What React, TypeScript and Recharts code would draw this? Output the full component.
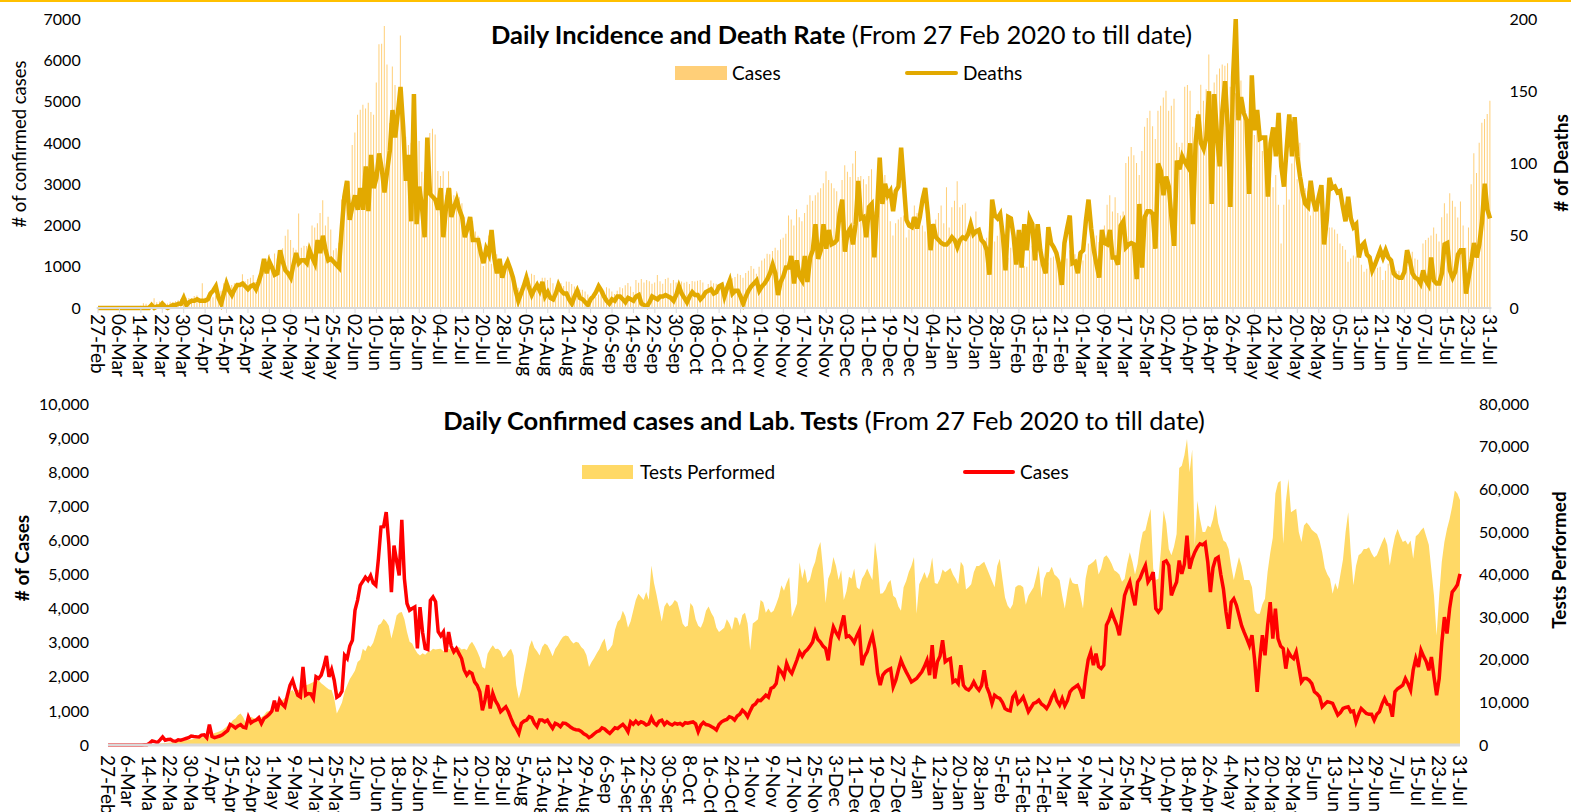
import React from 'react';
import { ComposedChart, Bar, Line, Area, XAxis, YAxis, Legend } from 'recharts';

const FONT = 'Lato, "Open Sans", sans-serif';

// one entry per day, 27-Feb-2020 .. 31-Jul-2021 (521 days)
const START = { y: 2020, m: 1, d: 27 };
const DAY_COUNT = 521;
const MONTHS = ['Jan', 'Feb', 'Mar', 'Apr', 'May', 'Jun', 'Jul', 'Aug', 'Sep', 'Oct', 'Nov', 'Dec'];

const days: Date[] = [];
for (let i = 0; i < DAY_COUNT; i++) days.push(new Date(START.y, START.m, START.d + i));
const topLabels = days.map((d) => `${String(d.getDate()).padStart(2, '0')}-${MONTHS[d.getMonth()]}`);
const bottomLabels = days.map((d) => `${d.getDate()}-${MONTHS[d.getMonth()]}`);

// daily confirmed cases (8 days per row, row starts on a tick date)
const cases = [
  2, 0, 0, 0, 2, 0, 0, 1, // 27-Feb
  1, 0, 0, 0, 0, 3, 7, 8, // 06-Mar
  53, 117, 100, 70, 150, 234, 140, 160, // 14-Mar
  170, 120, 110, 150, 140, 165, 190, 215, // 22-Mar
  263, 250, 240, 234, 290, 300, 215, 600, // 30-Mar
  250, 215, 240, 263, 300, 360, 420, 600, // 07-Apr
  560, 500, 560, 600, 520, 500, 820, 650, // 15-Apr
  700, 730, 800, 630, 780, 830, 900, 990, // 23-Apr
  1300, 990, 1320, 1200, 1120, 1450, 1750, 1900, // 01-May
  1650, 1460, 1410, 2290, 1460, 1510, 1500, 1365, // 09-May
  2000, 1950, 2050, 2300, 2610, 2000, 2210, 1900, // 17-May
  1400, 1450, 1580, 2630, 2535, 2900, 3070, 3950, // 25-May
  4250, 4680, 4800, 4920, 4830, 4970, 4750, 4680, // 02-Jun
  5460, 6390, 6400, 6830, 5900, 4480, 5850, 5400, // 10-Jun
  4970, 6600, 4880, 4150, 3950, 4000, 4045, 2830, // 18-Jun
  4045, 3300, 2830, 2800, 4240, 4340, 4200, 3320, // 26-Jun
  3200, 3315, 2730, 3315, 2900, 2730, 2830, 2680, // 04-Jul
  2535, 2200, 2050, 2145, 2100, 1850, 1750, 1560, // 12-Jul
  1020, 1315, 1755, 1070, 1510, 1300, 1170, 975, // 20-Jul
  1050, 1120, 975, 780, 600, 490, 340, 635, // 28-Jul
  700, 730, 830, 800, 635, 535, 730, 730, // 05-Aug
  680, 730, 600, 490, 635, 600, 535, 640, // 13-Aug
  635, 580, 520, 470, 450, 440, 400, 330, // 21-Aug
  290, 215, 260, 330, 390, 420, 505, 470, // 29-Aug
  400, 340, 420, 505, 480, 550, 605, 520, // 06-Sep
  390, 680, 610, 700, 620, 680, 650, 585, // 14-Sep
  620, 800, 650, 585, 700, 730, 600, 680, // 22-Sep
  620, 585, 640, 610, 635, 580, 655, 640, // 30-Sep
  660, 680, 620, 390, 580, 665, 600, 585, // 08-Oct
  540, 500, 440, 600, 680, 720, 750, 830, // 16-Oct
  800, 730, 850, 900, 1020, 950, 830, 1000, // 24-Oct
  1150, 1200, 1315, 1300, 1380, 1460, 1400, 1660, // 01-Nov
  1700, 1800, 2240, 2145, 2000, 2390, 2200, 2100, // 09-Nov
  2300, 2500, 2730, 2600, 2730, 2800, 2900, 3020, // 17-Nov
  3315, 3100, 3020, 2900, 2830, 2485, 3100, 3460, // 25-Nov
  3300, 3170, 3500, 3800, 3170, 3200, 3120, 3000, // 03-Dec
  3200, 3360, 2340, 2600, 2730, 3000, 3220, 2800, // 11-Dec
  2100, 1755, 2050, 2145, 2200, 2240, 1705, 1900, // 19-Dec
  2200, 2485, 2300, 2145, 2000, 1850, 1900, 1950, // 27-Dec
  2050, 2145, 2300, 2485, 2050, 2925, 1950, 2440, // 04-Jan
  2600, 3070, 2440, 2500, 2535, 1850, 1900, 1800, // 12-Jan
  2340, 1755, 1650, 1610, 1700, 1850, 1700, 1610, // 20-Jan
  1750, 2190, 1700, 1510, 1220, 1460, 1400, 1365, // 28-Jan
  1250, 1070, 1020, 1000, 1400, 1510, 1220, 1300, // 05-Feb
  1410, 1200, 975, 1100, 1220, 1250, 1315, 1200, // 13-Feb
  1150, 1070, 1200, 1400, 1540, 1300, 1170, 1365, // 21-Feb
  1150, 1300, 1560, 1650, 1700, 1755, 1600, 1365, // 01-Mar
  2000, 2500, 2730, 2340, 2680, 2300, 2240, 2340, // 09-Mar
  3510, 3670, 3900, 3700, 3510, 3220, 3800, 4390, // 17-Mar
  4600, 4780, 4400, 4095, 4780, 4900, 5100, 5265, // 25-Mar
  4780, 4900, 5070, 4000, 3900, 4000, 5360, 5400, // 02-Apr
  5265, 4390, 4600, 4780, 5410, 5020, 5300, 6140, // 10-Apr
  5170, 5460, 5655, 5800, 5900, 5870, 5930, 5360, // 18-Apr
  4485, 5200, 5460, 5510, 5000, 4580, 3900, 3410, // 26-Apr
  4190, 4290, 4100, 3800, 3500, 3300, 3120, 2925, // 04-May
  3220, 2500, 1560, 2500, 3220, 2630, 3500, 4190, // 12-May
  3120, 4000, 3120, 2900, 2830, 2240, 2730, 2600, // 20-May
  2535, 2730, 2300, 1850, 1950, 1950, 1900, 1800, // 28-May
  1560, 1500, 1410, 1120, 1200, 1270, 1250, 1220, // 05-Jun
  1050, 880, 950, 1070, 1100, 1120, 975, 1000, // 13-Jun
  680, 900, 1070, 1000, 925, 900, 900, 730, // 21-Jun
  900, 975, 1200, 1365, 1200, 1170, 830, 1560, // 29-Jun
  1650, 1700, 1755, 1950, 1800, 1610, 2200, 2535, // 07-Jul
  2290, 2780, 2600, 2450, 2190, 2580, 2000, 1460, // 15-Jul
  1950, 3000, 3750, 3270, 4000, 4485, 4580, 4700, // 23-Jul
  5020, // 31-Jul
];

// daily deaths
const deaths = [
  0, 0, 0, 0, 0, 0, 0, 0, // 27-Feb
  0, 0, 0, 0, 0, 0, 0, 0, // 06-Mar
  0, 0, 0, 0, 2, 0, 1, 1, // 14-Mar
  3, 1, 0, 1, 2, 2, 3, 3, // 22-Mar
  7, 2, 4, 5, 5, 6, 5, 5, // 30-Mar
  5, 6, 10, 12, 15, 7, 3, 10, // 07-Apr
  17, 12, 9, 13, 16, 16, 17, 15, // 15-Apr
  13, 15, 16, 13, 18, 24, 34, 24, // 23-Apr
  32, 28, 23, 24, 40, 32, 26, 24, // 01-May
  21, 30, 38, 31, 33, 33, 31, 40, // 09-May
  35, 31, 47, 38, 50, 40, 33, 34, // 17-May
  32, 30, 28, 54, 77, 88, 61, 70, // 25-May
  78, 68, 83, 68, 98, 67, 106, 83, // 02-Jun
  90, 107, 96, 80, 95, 109, 137, 118, // 10-Jun
  135, 153, 125, 88, 106, 60, 148, 58, // 18-Jun
  84, 70, 49, 118, 79, 77, 75, 68, // 26-Jun
  83, 49, 70, 83, 63, 70, 75, 68, // 04-Jul
  63, 49, 55, 63, 47, 47, 47, 38, // 12-Jul
  31, 41, 37, 54, 35, 24, 34, 21, // 20-Jul
  28, 32, 27, 21, 12, 5, 10, 15, // 28-Jul
  21, 14, 9, 13, 16, 12, 18, 8, // 05-Aug
  11, 7, 6, 10, 16, 12, 10, 10, // 13-Aug
  6, 3, 8, 12, 7, 6, 4, 2, // 21-Aug
  6, 8, 11, 15, 12, 8, 5, 3, // 29-Aug
  6, 5, 8, 8, 6, 4, 7, 6, // 06-Sep
  5, 8, 9, 3, 2, 1, 4, 8, // 14-Sep
  7, 6, 8, 8, 9, 8, 7, 5, // 22-Sep
  9, 15, 10, 7, 4, 8, 11, 9, // 30-Sep
  9, 6, 8, 11, 12, 13, 10, 11, // 08-Oct
  15, 16, 8, 14, 19, 10, 12, 12, // 16-Oct
  8, 3, 8, 12, 15, 17, 19, 12, // 24-Oct
  15, 17, 20, 24, 30, 24, 9, 18, // 01-Nov
  22, 28, 28, 36, 17, 33, 22, 19, // 09-Nov
  36, 18, 35, 40, 58, 34, 40, 58, // 17-Nov
  41, 54, 44, 45, 47, 65, 75, 39, // 25-Nov
  52, 55, 44, 58, 88, 62, 63, 49, // 03-Dec
  70, 72, 35, 67, 104, 72, 86, 78, // 11-Dec
  81, 67, 81, 84, 111, 86, 61, 57, // 19-Dec
  56, 63, 55, 63, 75, 83, 65, 40, // 27-Dec
  58, 49, 47, 45, 44, 44, 46, 49, // 04-Jan
  47, 42, 47, 49, 48, 51, 58, 51, // 12-Jan
  53, 54, 47, 45, 40, 23, 75, 64, // 20-Jan
  62, 65, 50, 26, 63, 62, 50, 30, // 28-Jan
  54, 28, 58, 40, 62, 58, 33, 58, // 05-Feb
  40, 30, 24, 56, 45, 42, 38, 30, // 13-Feb
  16, 45, 55, 64, 31, 32, 24, 38, // 21-Feb
  40, 60, 75, 55, 40, 30, 21, 54, // 01-Mar
  45, 44, 54, 35, 35, 30, 57, 60, // 09-Mar
  42, 44, 45, 44, 20, 72, 28, 63, // 17-Mar
  67, 67, 65, 41, 100, 95, 78, 91, // 25-Mar
  84, 62, 43, 102, 96, 105, 101, 98, // 02-Apr
  114, 58, 114, 134, 114, 110, 118, 150, // 10-Apr
  72, 148, 120, 98, 137, 157, 125, 70, // 18-Apr
  160, 200, 130, 146, 135, 130, 79, 161, // 26-Apr
  123, 137, 117, 118, 118, 77, 114, 125, // 04-May
  105, 135, 98, 84, 110, 134, 105, 132, // 12-May
  105, 91, 80, 72, 70, 88, 74, 67, // 20-May
  77, 85, 44, 61, 90, 83, 84, 80, // 28-May
  81, 70, 60, 77, 62, 56, 58, 35, // 05-Jun
  43, 45, 37, 35, 26, 30, 35, 40, // 13-Jun
  35, 40, 35, 33, 24, 22, 21, 21, // 21-Jun
  25, 40, 33, 24, 21, 20, 17, 26, // 29-Jun
  19, 16, 35, 19, 17, 17, 24, 44, // 07-Jul
  45, 26, 21, 25, 37, 40, 40, 10, // 15-Jul
  21, 32, 45, 35, 44, 60, 86, 68, // 23-Jul
  62, // 31-Jul
];

// daily lab tests performed
const tests = [
  10, 0, 0, 20, 30, 20, 40, 50, // 27-Feb
  60, 80, 100, 90, 120, 150, 180, 200, // 06-Mar
  150, 200, 250, 300, 350, 400, 450, 500, // 14-Mar
  600, 650, 700, 800, 900, 1000, 1100, 1200, // 22-Mar
  1300, 1400, 1500, 1600, 1800, 1900, 2000, 2200, // 30-Mar
  2500, 2800, 3000, 3200, 3500, 4000, 4500, 5000, // 07-Apr
  5800, 6200, 7000, 7400, 6500, 5200, 6000, 6600, // 15-Apr
  6300, 6200, 6300, 6500, 7000, 7800, 8000, 8300, // 23-Apr
  8600, 9000, 9500, 10500, 11000, 11500, 12500, 12900, // 01-May
  12000, 12900, 13000, 13500, 14000, 14200, 14500, 14800, // 09-May
  15000, 15200, 14500, 14000, 13500, 13000, 12900, 11000, // 17-May
  7400, 8600, 10000, 12500, 14000, 15500, 16400, 17500, // 25-May
  19500, 20000, 22600, 22000, 23400, 23000, 24000, 26000, // 02-Jun
  28100, 28500, 29600, 29000, 28000, 25000, 27500, 30400, // 10-Jun
  31000, 31200, 29500, 26500, 24200, 23800, 22500, 21500, // 18-Jun
  21000, 21500, 21200, 21800, 22000, 22600, 22400, 22500, // 26-Jun
  22600, 22000, 22300, 22500, 22400, 22600, 22700, 23000, // 04-Jul
  22400, 22600, 22300, 23500, 24200, 23200, 22000, 20500, // 12-Jul
  18300, 17900, 21400, 22500, 23400, 22500, 22600, 22000, // 20-Jul
  20500, 21000, 22000, 22600, 21000, 14000, 10900, 13000, // 28-Jul
  16500, 19500, 23000, 24600, 22800, 22000, 21000, 23000, // 05-Aug
  23800, 23400, 22200, 20800, 22500, 23400, 24500, 25400, // 13-Aug
  25700, 25500, 24500, 23800, 24200, 24000, 23000, 22400, // 21-Aug
  21100, 18300, 19500, 20400, 21500, 22500, 24000, 25000, // 29-Aug
  22000, 22600, 23500, 27000, 28900, 29500, 31500, 30200, // 06-Sep
  27500, 29000, 31500, 34000, 35500, 34800, 34000, 35900, // 14-Sep
  34000, 42100, 38000, 35200, 32000, 29000, 32500, 33500, // 22-Sep
  32500, 33000, 34000, 33500, 31200, 28500, 27700, 28000, // 30-Sep
  33300, 32500, 29500, 28000, 27500, 29000, 31500, 32500, // 08-Oct
  31000, 30000, 27500, 26500, 27000, 27500, 29500, 28500, // 16-Oct
  27000, 30000, 29800, 28000, 30500, 31000, 28500, 22200, // 24-Oct
  28500, 29000, 29500, 34000, 33500, 31000, 32000, 31000, // 01-Nov
  31500, 33000, 34800, 37500, 36200, 38000, 39400, 30000, // 09-Nov
  31500, 33200, 42900, 39000, 41400, 38000, 38800, 41400, // 17-Nov
  43000, 46000, 47600, 41400, 33300, 39000, 40600, 44100, // 25-Nov
  42000, 38700, 41000, 34000, 36000, 39500, 39000, 41400, // 03-Dec
  37000, 36500, 39000, 40000, 41400, 40000, 38700, 47600, // 11-Dec
  43000, 35500, 35600, 36500, 38000, 38700, 35000, 34500, // 19-Dec
  32500, 31500, 37000, 38500, 40600, 42000, 44100, 30800, // 27-Dec
  37700, 39000, 40600, 39000, 40500, 44000, 38000, 37800, // 04-Jan
  39000, 41200, 40500, 41000, 41500, 40000, 39000, 37700, // 12-Jan
  43000, 42000, 36500, 37000, 37700, 40500, 42000, 42000, // 20-Jan
  42500, 43000, 41500, 40000, 38500, 37000, 42000, 43700, // 28-Jan
  39000, 34600, 32700, 31900, 33000, 37000, 37500, 37500, // 05-Feb
  37000, 32900, 35000, 36000, 37000, 39500, 42100, 34500, // 13-Feb
  39000, 40500, 40600, 41800, 40000, 39500, 38700, 35000, // 21-Feb
  32000, 36000, 39400, 38000, 37800, 37800, 35000, 32000, // 01-Mar
  39000, 42100, 42500, 43000, 43700, 40000, 41400, 44000, // 09-Mar
  44500, 43700, 42500, 41000, 40600, 40000, 38300, 39000, // 17-Mar
  42500, 45200, 43000, 40000, 42500, 47000, 50000, 50400, // 25-Mar
  53000, 55400, 41400, 38700, 39000, 46000, 55000, 52000, // 02-Apr
  46000, 44500, 46500, 49500, 65000, 65500, 68000, 71800, // 10-Apr
  64000, 69300, 46800, 57300, 53000, 50000, 50000, 51500, // 18-Apr
  51000, 53000, 56500, 52000, 50000, 48000, 47500, 46000, // 26-Apr
  42000, 38700, 41500, 44100, 42000, 38700, 38700, 38700, // 04-May
  37000, 31500, 30800, 30800, 33000, 34300, 40600, 45000, // 12-May
  48600, 59000, 61500, 62000, 47200, 57000, 62400, 54600, // 20-May
  55000, 55400, 50000, 47600, 51500, 52200, 51500, 50500, // 28-May
  50000, 49500, 48000, 45200, 41500, 40000, 39000, 35500, // 05-Jun
  38000, 36500, 40000, 43500, 50000, 54600, 45000, 37500, // 13-Jun
  42000, 44500, 45000, 46000, 46000, 46400, 45000, 44000, // 21-Jun
  44500, 46000, 47500, 48800, 47000, 42100, 46000, 49000, // 29-Jun
  50700, 49000, 47600, 48000, 47000, 48000, 43700, 49000, // 07-Jul
  49500, 50400, 51000, 49000, 47000, 41000, 35000, 25700, // 15-Jul
  35000, 43000, 47600, 50700, 53000, 56000, 59700, 59000, // 23-Jul
  57500, // 31-Jul
];

const casesTicks = [0, 1000, 2000, 3000, 4000, 5000, 6000, 7000];
const deathTicks = [0, 50, 100, 150, 200];
const caseTicks2 = [0, 1000, 2000, 3000, 4000, 5000, 6000, 7000, 8000, 9000, 10000];
const testTicks = [0, 10000, 20000, 30000, 40000, 50000, 60000, 70000, 80000];

const data = cases.map((c, i) => ({ i, cases: c, deaths: deaths[i], tests: tests[i] }));

const BAR_COLOR = '#FFCF78';
const DEATH_COLOR = '#E2A900';
const TEST_COLOR = '#FFD966';
const CASE_RED = '#FF0000';
const AXIS_GRAY = '#D9D9D9';

const fmt = (v: number) => v.toLocaleString('en-US');

const makeTick = (labels: string[]) => (props: any) => {
  const { x, y, payload } = props;
  return (
    <text
      x={x}
      y={y}
      transform={`rotate(90, ${x}, ${y})`}
      textAnchor="start"
      dominantBaseline="central"
      fontSize={19}
      fill="#000"
    >
      {labels[payload.value]}
    </text>
  );
};

const TopTick = makeTick(topLabels);
const BottomTick = makeTick(bottomLabels);

const legendText: React.CSSProperties = {
  position: 'absolute',
  top: 0,
  lineHeight: '22px',
  fontSize: 19,
  color: '#000',
  whiteSpace: 'nowrap',
};

const TopLegend = () => (
  <div style={{ position: 'relative', width: 1571, height: 22 }}>
    <div style={{ position: 'absolute', left: 675, top: 4, width: 52, height: 14, background: BAR_COLOR }} />
    <span style={{ ...legendText, left: 732 }}>Cases</span>
    <div style={{ position: 'absolute', left: 905, top: 9, width: 53, height: 4, borderRadius: 2, background: DEATH_COLOR }} />
    <span style={{ ...legendText, left: 963 }}>Deaths</span>
  </div>
);

const BottomLegend = () => (
  <div style={{ position: 'relative', width: 1571, height: 22 }}>
    <div style={{ position: 'absolute', left: 582, top: 4, width: 51, height: 14, background: TEST_COLOR }} />
    <span style={{ ...legendText, left: 640 }}>Tests Performed</span>
    <div style={{ position: 'absolute', left: 963, top: 9, width: 52, height: 4, borderRadius: 2, background: CASE_RED }} />
    <span style={{ ...legendText, left: 1020 }}>Cases</span>
  </div>
);

export default function App() {
  return (
    <div style={{ position: 'absolute', left: 0, top: 0, width: 1571, height: 812, background: '#fff', fontFamily: FONT, overflow: 'hidden' }}>
      <div style={{ position: 'absolute', left: 0, top: 0, width: 1571, height: 2, background: '#FFC000' }} />

      {/* top: daily incidence and deaths */}
      <div style={{ position: 'absolute', left: 0, top: 0 }}>
        <ComposedChart width={1571} height={390} data={data} margin={{ top: 19, right: 0, bottom: 0, left: 0 }} barCategoryGap="25%">
          <XAxis
            dataKey="i"
            interval={7}
            height={82}
            tick={TopTick}
            tickSize={5}
            tickMargin={1}
            tickLine={{ stroke: AXIS_GRAY }}
            axisLine={{ stroke: AXIS_GRAY, strokeWidth: 2 }}
          />
          <YAxis
            yAxisId="l"
            width={96.7}
            domain={[0, 7000]}
            ticks={casesTicks}
            axisLine={false}
            tickLine={false}
            tickMargin={10}
            tick={{ fontSize: 16, fill: '#000' }}
          />
          <YAxis
            yAxisId="r"
            orientation="right"
            width={79.6}
            domain={[0, 200]}
            ticks={deathTicks}
            axisLine={false}
            tickLine={false}
            tickMargin={12}
            tick={{ fontSize: 16, fill: '#000' }}
          />
          <Legend verticalAlign="middle" align="center" layout="horizontal" content={TopLegend} wrapperStyle={{ left: 0, top: 62, width: 1571 }} />
          <Bar yAxisId="l" dataKey="cases" name="Cases" fill={BAR_COLOR} isAnimationActive={false} />
          <Line
            yAxisId="r"
            dataKey="deaths"
            name="Deaths"
            type="linear"
            stroke={DEATH_COLOR}
            strokeWidth={4.5}
            dot={false}
            activeDot={false}
            isAnimationActive={false}
          />
        </ComposedChart>
      </div>

      {/* bottom: daily cases and lab tests */}
      <div style={{ position: 'absolute', left: 0, top: 390 }}>
        <ComposedChart width={1571} height={422} data={data} margin={{ top: 14, right: 0, bottom: 0, left: 0 }}>
          <XAxis
            dataKey="i"
            interval={7}
            height={67}
            tick={BottomTick}
            tickLine={false}
            tickSize={6}
            tickMargin={4}
            axisLine={{ stroke: AXIS_GRAY, strokeWidth: 3 }}
          />
          <YAxis
            yAxisId="l"
            width={108}
            domain={[0, 10000]}
            ticks={caseTicks2}
            tickFormatter={fmt}
            axisLine={false}
            tickLine={false}
            tickMargin={13}
            tick={{ fontSize: 16, fill: '#000' }}
          />
          <YAxis
            yAxisId="r"
            orientation="right"
            width={111}
            domain={[0, 80000]}
            ticks={testTicks}
            tickFormatter={fmt}
            axisLine={false}
            tickLine={false}
            tickMargin={13}
            tick={{ fontSize: 16, fill: '#000' }}
          />
          <Legend verticalAlign="middle" align="center" layout="horizontal" content={BottomLegend} wrapperStyle={{ left: 0, top: 71, width: 1571 }} />
          <Area
            yAxisId="r"
            dataKey="tests"
            name="Tests Performed"
            type="linear"
            fill={TEST_COLOR}
            fillOpacity={1}
            stroke="none"
            dot={false}
            activeDot={false}
            isAnimationActive={false}
          />
          <Line
            yAxisId="l"
            dataKey="cases"
            name="Cases"
            type="linear"
            stroke={CASE_RED}
            strokeWidth={3.5}
            dot={false}
            activeDot={false}
            isAnimationActive={false}
          />
        </ComposedChart>
      </div>

      {/* titles and axis titles */}
      <svg width={1571} height={812} style={{ position: 'absolute', left: 0, top: 0, pointerEvents: 'none' }}>
        <text x={841.5} y={44} textAnchor="middle" fontSize={25.5} fill="#000">
          <tspan fontWeight={700}>Daily Incidence and Death Rate</tspan>
          <tspan> (From 27 Feb 2020 to till date)</tspan>
        </text>
        <text x={824} y={430} textAnchor="middle" fontSize={25.5} fill="#000">
          <tspan fontWeight={700}>Daily Confirmed cases and Lab. Tests</tspan>
          <tspan> (From 27 Feb 2020 to till date)</tspan>
        </text>
        <text transform="translate(19,144) rotate(-90)" textAnchor="middle" dominantBaseline="central" fontSize={18.5} fill="#000">
          # of confirmed cases
        </text>
        <text transform="translate(1560,163) rotate(-90)" textAnchor="middle" dominantBaseline="central" fontSize={19} fontWeight={700} fill="#000">
          # of Deaths
        </text>
        <text transform="translate(21,558) rotate(-90)" textAnchor="middle" dominantBaseline="central" fontSize={19} fontWeight={700} fill="#000">
          # of Cases
        </text>
        <text transform="translate(1558,560) rotate(-90)" textAnchor="middle" dominantBaseline="central" fontSize={19} fontWeight={700} fill="#000">
          Tests Performed
        </text>
      </svg>
    </div>
  );
}
